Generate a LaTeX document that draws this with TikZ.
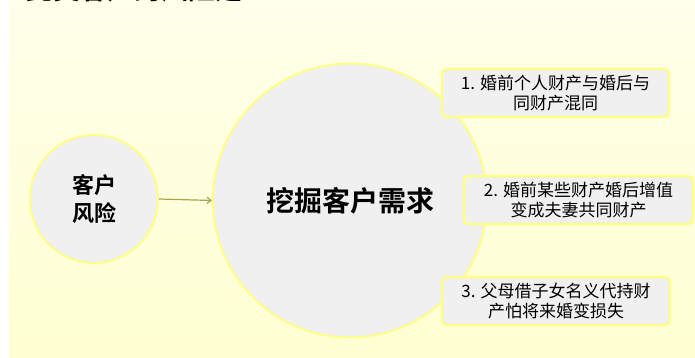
\documentclass[tikz,border=0pt]{standalone}
\usepackage{fontspec}
\setmainfont{Noto Sans CJK SC}[BoldFont={Noto Sans CJK SC Bold}]
\usetikzlibrary{arrows.meta}
\definecolor{bgtop}{HTML}{FFFFEA}
\definecolor{bgbot}{HTML}{FFFFD2}
\definecolor{nodefill}{HTML}{F0F0F0}
\definecolor{rim}{HTML}{FFFF88}
\definecolor{arrowc}{HTML}{A8A450}
\tikzset{
  x=1pt, y=-1pt,
  bubble/.style={circle, fill=nodefill, draw=rim, line width=2pt, inner sep=0pt, align=center},
  itembox/.style={rounded corners=5pt, fill=nodefill, draw=rim, line width=2.5pt, align=center, font=\fontsize{17}{20.5}\selectfont, inner sep=0pt},
  link/.style={draw=arrowc, line width=1.2pt, -{Straight Barb[length=4pt,width=6pt]}}
}
\begin{document}
\begin{tikzpicture}
\useasboundingbox (0,0) rectangle (695,358);
\shade[top color=bgtop, bottom color=bgbot] (9,0) rectangle (695,358);
\node[anchor=base west, font=\fontsize{27}{27}\selectfont\bfseries, inner sep=0pt] (title) at (26,-0.5) {此类客户的风险是：};
\node[bubble, minimum size=128pt, font=\fontsize{22}{28}\selectfont\bfseries] (risk) at (94,199) {客户\\风险};
\node[bubble, minimum size=274pt, font=\fontsize{28}{30}\selectfont\bfseries] (need) at (350,200.5) {挖掘客户需求};
\draw[link] (risk.east) -- (need.west);
\node[itembox, minimum width=227pt, minimum height=48pt] (b1) at (555.5,93) {1. 婚前个人财产与婚后与\\同财产混同};
\node[itembox, minimum width=229pt, minimum height=48pt] (b2) at (578.5,200) {2. 婚前某些财产婚后增值\\变成夫妻共同财产};
\node[itembox, minimum width=228pt, minimum height=48pt] (b3) at (556,301) {3. 父母借子女名义代持财\\产怕将来婚变损失};
\end{tikzpicture}
\end{document}
